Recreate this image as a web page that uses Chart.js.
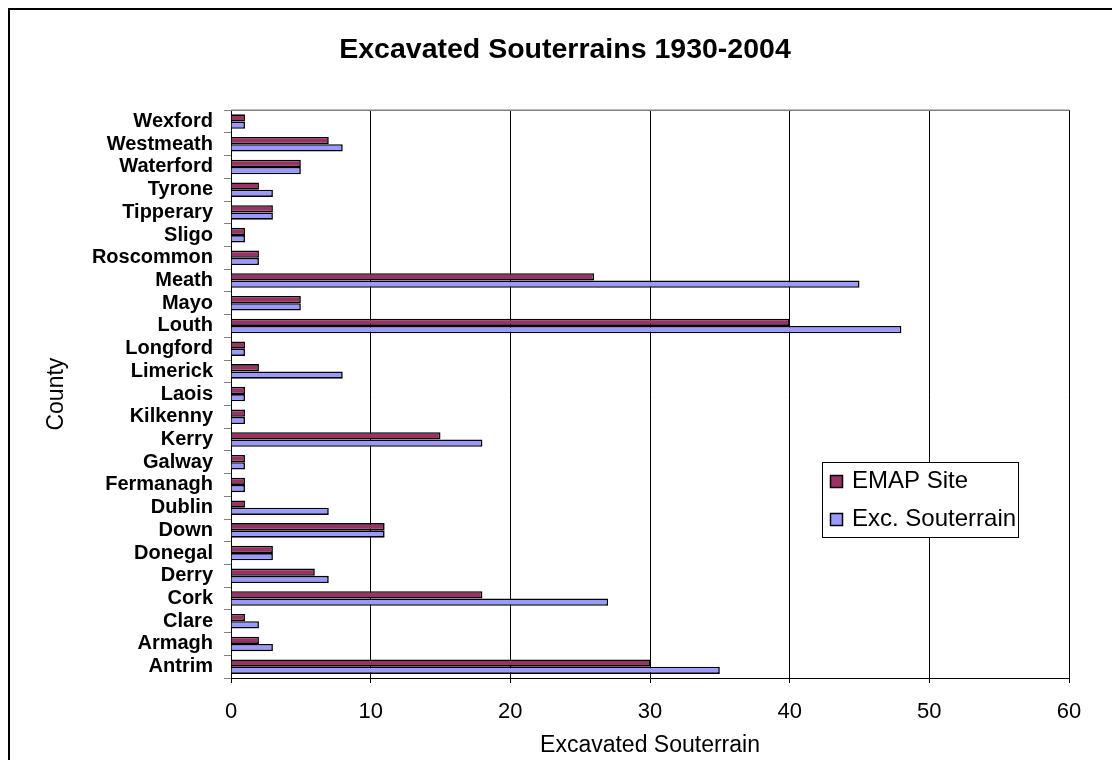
<!DOCTYPE html>
<html>
<head>
<meta charset="utf-8">
<title>Excavated Souterrains 1930-2004</title>
<script src="https://cdn.jsdelivr.net/npm/chart.js@4.4.1/dist/chart.umd.min.js"></script>
<style>
  html, body { margin: 0; padding: 0; background: #fff; overflow: hidden; }
  #frame { position: absolute; left: 8px; top: 8px; width: 1300px; height: 900px; border: 2px solid #000; }
  #wrap { position: absolute; left: 0; top: 0; width: 1112px; height: 760px; }
</style>
</head>
<body>
<div id="frame"></div>
<div id="wrap"><canvas id="chart"></canvas></div>
<script>
// counties listed top to bottom as they appear in the chart
const counties = [
  "Wexford", "Westmeath", "Waterford", "Tyrone", "Tipperary", "Sligo",
  "Roscommon", "Meath", "Mayo", "Louth", "Longford", "Limerick", "Laois",
  "Kilkenny", "Kerry", "Galway", "Fermanagh", "Dublin", "Down", "Donegal",
  "Derry", "Cork", "Clare", "Armagh", "Antrim"
];
const emapSite = [1, 7, 5, 2, 3, 1, 2, 26, 5, 40, 1, 2, 1, 1, 15, 1, 1, 1, 11, 3, 6, 18, 1, 2, 30];
const excSouterrain = [1, 8, 5, 3, 3, 1, 2, 45, 5, 48, 1, 8, 1, 1, 18, 1, 1, 7, 11, 3, 7, 27, 2, 3, 35];
const xMin = 0, xMax = 60, xStep = 10;

const FONT = 'Arial, "Liberation Sans", sans-serif';

// legend drawn inside the plot, like the Excel original
const insideLegend = {
  id: "insideLegend",
  afterDraw(chart, args, o) {
    const ctx = chart.ctx;
    ctx.save();
    ctx.fillStyle = "#fff";
    ctx.fillRect(o.x, o.y, o.w, o.h);
    ctx.strokeStyle = "#000";
    ctx.lineWidth = 1;
    ctx.strokeRect(o.x + 0.5, o.y + 0.5, o.w, o.h);
    ctx.font = "24px " + FONT;
    ctx.textBaseline = "middle";
    chart.data.datasets.forEach((ds, i) => {
      const cy = o.y + o.first + i * o.gap;
      ctx.fillStyle = ds.backgroundColor;
      ctx.fillRect(o.x + 8, cy - 6, 13, 13);
      ctx.lineWidth = 1.5;
      ctx.strokeRect(o.x + 8.5, cy - 5.5, 12, 12);
      ctx.fillStyle = "#000";
      ctx.fillText(ds.label, o.x + 30, cy);
    });
    ctx.restore();
  }
};

// gray top edge of the plot area
const plotFrame = {
  id: "plotFrame",
  beforeDatasetsDraw(chart) {
    const { ctx, chartArea: a } = chart;
    ctx.save();
    ctx.strokeStyle = "#808080";
    ctx.lineWidth = 1.5;
    ctx.beginPath();
    ctx.moveTo(a.left, a.top);
    ctx.lineTo(a.right, a.top);
    ctx.stroke();
    ctx.restore();
  }
};

new Chart(document.getElementById("chart"), {
  type: "bar",
  data: {
    labels: counties,
    datasets: [
      {
        label: "EMAP Site",
        data: emapSite,
        backgroundColor: "#993366",
        borderColor: "#000",
        borderWidth: 1.6,
        barPercentage: 1,
        categoryPercentage: 0.64
      },
      {
        label: "Exc. Souterrain",
        data: excSouterrain,
        backgroundColor: "#9999FF",
        borderColor: "#000",
        borderWidth: 1.6,
        barPercentage: 1,
        categoryPercentage: 0.64
      }
    ]
  },
  options: {
    indexAxis: "y",
    responsive: true,
    maintainAspectRatio: false,
    animation: false,
    layout: { padding: { left: 18, right: 0, top: 0, bottom: 0 } },
    plugins: {
      legend: { display: false },
      tooltip: { enabled: false },
      title: {
        display: true,
        text: "Excavated Souterrains 1930-2004",
        color: "#000",
        font: { family: FONT, size: 28.5, weight: "bold" },
        padding: { top: 33, bottom: 43 }
      },
      insideLegend: { x: 822, y: 462, w: 196, h: 75, first: 19, gap: 38 }
    },
    scales: {
      x: {
        min: xMin,
        max: xMax,
        ticks: {
          stepSize: xStep,
          color: "#000",
          padding: 16,
          font: { family: FONT, size: 22 }
        },
        grid: { color: "#000", lineWidth: 1, tickLength: 5 },
        border: { color: "#000", width: 1 },
        title: {
          display: true,
          text: "Excavated Souterrain",
          color: "#000",
          font: { family: FONT, size: 23 },
          padding: { top: 0, bottom: 1 }
        },
        afterFit(s) { s.height = 82; }
      },
      y: {
        ticks: {
          autoSkip: false,
          color: "#000",
          padding: 11,
          font: { family: FONT, size: 20, weight: "bold", lineHeight: 1 }
        },
        grid: { drawOnChartArea: false, color: "#808080", tickLength: 7 },
        border: { color: "#000", width: 1 },
        title: {
          display: true,
          text: "County",
          color: "#000",
          font: { family: FONT, size: 23 },
          padding: { top: 25, bottom: 0 }
        },
        afterFit(s) { s.width = 213; }
      },
      yPad: {
        type: "category",
        axis: "y",
        position: "right",
        grid: { display: false },
        ticks: { display: false },
        border: { display: false },
        afterFit(s) { s.width = 43; }
      }
    }
  },
  plugins: [plotFrame, insideLegend]
});
</script>
</body>
</html>
